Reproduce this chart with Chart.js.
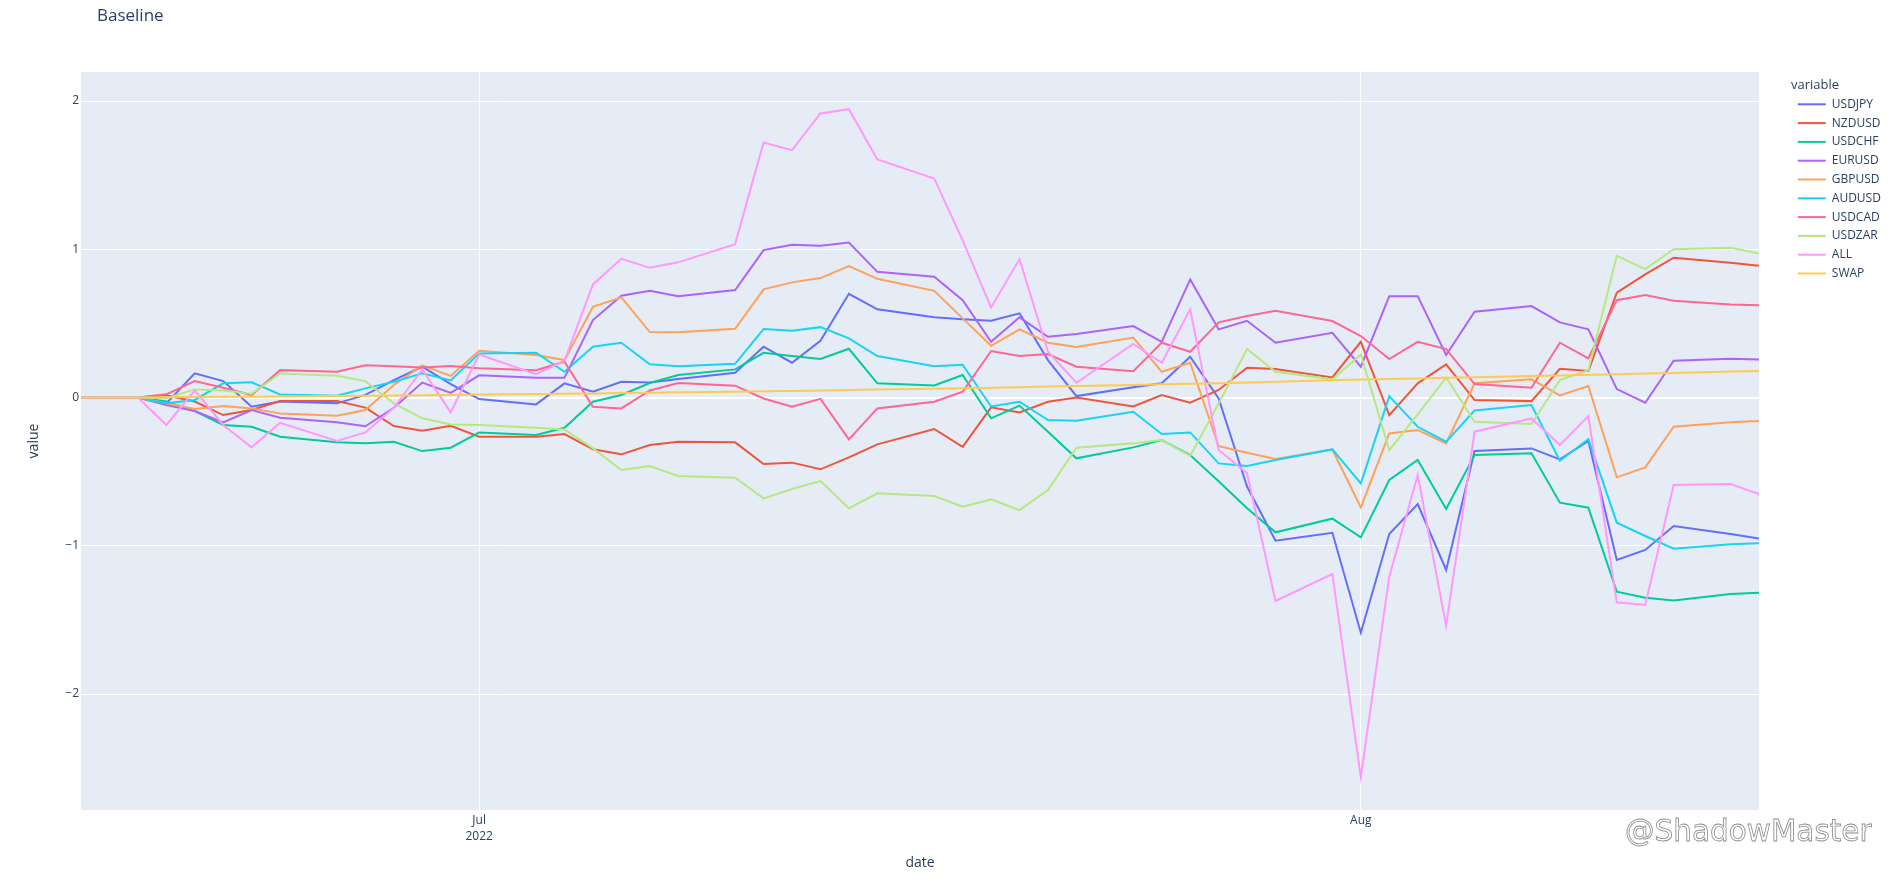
<!DOCTYPE html>
<html>
<head>
<meta charset="utf-8">
<script src="https://cdn.jsdelivr.net/npm/chart.js@4.4.1/dist/chart.umd.min.js"></script>
<style>
html,body{margin:0;padding:0;background:#ffffff;}
#wrap{position:relative;width:1902px;height:881px;overflow:hidden;}
#c{display:block;}
#wm{position:absolute;left:1625px;top:815px;font-family:'DejaVu Sans',sans-serif;font-size:29.5px;line-height:32px;color:#ffffff;-webkit-text-stroke:0.8px #8a8a8a;white-space:nowrap;}
</style>
</head>
<body>
<div id="wrap"><canvas id="c" width="1902" height="881"></canvas><div id="wm">@ShadowMaster</div></div>
<script>
const dates = ['2022-06-17','2022-06-19','2022-06-20','2022-06-21','2022-06-22','2022-06-23','2022-06-24','2022-06-26','2022-06-27','2022-06-28','2022-06-29','2022-06-30','2022-07-01','2022-07-03','2022-07-04','2022-07-05','2022-07-06','2022-07-07','2022-07-08','2022-07-10','2022-07-11','2022-07-12','2022-07-13','2022-07-14','2022-07-15','2022-07-17','2022-07-18','2022-07-19','2022-07-20','2022-07-21','2022-07-22','2022-07-24','2022-07-25','2022-07-26','2022-07-27','2022-07-28','2022-07-29','2022-07-31','2022-08-01','2022-08-02','2022-08-03','2022-08-04','2022-08-05','2022-08-07','2022-08-08','2022-08-09','2022-08-10','2022-08-11','2022-08-12','2022-08-14','2022-08-15'];
const tickDates = ['2022-07-01','2022-08-01'];
const tickLabels = [['Jul','2022'],'Aug'];
const yTicks = [-2,-1,0,1,2];
const yMin = -2.782;
const yMax = 2.196;

const seriesNames = ['USDJPY','NZDUSD','USDCHF','EURUSD','GBPUSD','AUDUSD','USDCAD','USDZAR','ALL','SWAP'];
const seriesColors = ['#636efa','#EF553B','#00cc96','#ab63fa','#FFA15A','#19d3f3','#FF6692','#B6E880','#FF97FF','#FECB52'];

const USDJPY = [0,0,-0.04,0.163,0.111,-0.062,-0.027,-0.039,0.018,0.118,0.208,0.09,-0.01,-0.046,0.096,0.04,0.107,0.102,0.125,0.167,0.343,0.235,0.383,0.70,0.595,0.541,0.529,0.518,0.568,0.253,0.010,0.069,0.096,0.275,-0.006,-0.60,-0.966,-0.912,-1.586,-0.920,-0.718,-1.163,-0.361,-0.343,-0.417,-0.293,-1.096,-1.028,-0.866,-0.92,-0.950];
const NZDUSD = [0,0,0.015,-0.027,-0.118,-0.084,-0.023,-0.023,-0.068,-0.192,-0.224,-0.19,-0.264,-0.264,-0.246,-0.349,-0.383,-0.320,-0.298,-0.302,-0.448,-0.439,-0.484,-0.403,-0.316,-0.212,-0.332,-0.066,-0.100,-0.028,0.001,-0.06,0.017,-0.035,0.051,0.201,0.192,0.136,0.376,-0.118,0.096,0.224,-0.017,-0.024,0.194,0.179,0.707,0.831,0.943,0.909,0.889];
const USDCHF = [0,0,-0.027,-0.091,-0.185,-0.197,-0.264,-0.302,-0.309,-0.298,-0.361,-0.338,-0.235,-0.253,-0.204,-0.028,0.017,0.098,0.152,0.190,0.302,0.280,0.260,0.329,0.096,0.082,0.152,-0.140,-0.054,-0.23,-0.410,-0.336,-0.287,-0.388,-0.565,-0.747,-0.909,-0.817,-0.943,-0.556,-0.421,-0.752,-0.388,-0.376,-0.709,-0.743,-1.309,-1.350,-1.368,-1.325,-1.316];
const EURUSD = [0,0,-0.050,-0.091,-0.167,-0.084,-0.136,-0.167,-0.194,-0.069,0.101,0.032,0.150,0.134,0.134,0.523,0.687,0.720,0.684,0.725,0.995,1.031,1.024,1.046,0.848,0.815,0.657,0.376,0.541,0.410,0.428,0.482,0.376,0.797,0.460,0.518,0.370,0.437,0.208,0.684,0.684,0.287,0.579,0.617,0.507,0.460,0.057,-0.035,0.248,0.262,0.257];
const GBPUSD = [0,0,-0.039,-0.077,-0.057,-0.073,-0.107,-0.122,-0.084,0.085,0.217,0.146,0.315,0.287,0.253,0.612,0.676,0.442,0.440,0.464,0.730,0.777,0.806,0.887,0.801,0.720,0.534,0.349,0.460,0.370,0.341,0.405,0.174,0.235,-0.327,-0.372,-0.415,-0.350,-0.741,-0.242,-0.219,-0.309,0.096,0.123,0.015,0.078,-0.538,-0.471,-0.197,-0.167,-0.158];
const AUDUSD = [0,0,-0.039,-0.016,0.096,0.103,0.021,0.012,0.062,0.106,0.163,0.115,0.298,0.303,0.174,0.343,0.370,0.224,0.212,0.228,0.462,0.451,0.475,0.399,0.280,0.212,0.221,-0.060,-0.028,-0.152,-0.156,-0.096,-0.246,-0.235,-0.444,-0.462,-0.421,-0.350,-0.579,0.010,-0.197,-0.298,-0.087,-0.051,-0.426,-0.280,-0.844,-0.934,-1.019,-0.99,-0.983];
const USDCAD = [0,0,0.022,0.111,0.066,0.017,0.185,0.174,0.218,0.212,0.203,0.213,0.197,0.185,0.242,-0.062,-0.073,0.048,0.098,0.080,-0.006,-0.062,-0.009,-0.282,-0.073,-0.028,0.039,0.314,0.280,0.293,0.208,0.178,0.370,0.309,0.507,0.550,0.585,0.516,0.415,0.260,0.376,0.327,0.091,0.066,0.370,0.264,0.657,0.691,0.653,0.628,0.622];
const USDZAR = [0,0,-0.005,0.055,0.048,0.026,0.163,0.147,0.111,-0.039,-0.140,-0.181,-0.185,-0.203,-0.215,-0.343,-0.489,-0.462,-0.529,-0.541,-0.680,-0.617,-0.563,-0.747,-0.646,-0.664,-0.736,-0.687,-0.759,-0.624,-0.338,-0.309,-0.287,-0.394,-0.04,0.327,0.174,0.123,0.291,-0.354,-0.114,0.136,-0.163,-0.179,0.118,0.185,0.956,0.866,1.001,1.010,0.972];
const ALL = [0,0,-0.185,0.048,-0.185,-0.336,-0.170,-0.293,-0.235,-0.069,0.19,-0.100,0.290,0.158,0.248,0.763,0.936,0.875,0.912,1.035,1.721,1.669,1.916,1.945,1.606,1.478,1.06,0.608,0.934,0.309,0.100,0.362,0.235,0.595,-0.354,-0.511,-1.372,-1.190,-2.56,-1.208,-0.523,-1.541,-0.230,-0.141,-0.320,-0.125,-1.381,-1.399,-0.590,-0.583,-0.651];
const SWAP = [0,0,0.002,0.003,0.005,0.006,0.008,0.010,0.012,0.014,0.016,0.018,0.020,0.024,0.026,0.028,0.031,0.033,0.035,0.040,0.042,0.045,0.048,0.051,0.054,0.060,0.063,0.067,0.070,0.074,0.078,0.085,0.089,0.093,0.097,0.102,0.106,0.116,0.121,0.125,0.129,0.133,0.137,0.145,0.149,0.154,0.158,0.162,0.166,0.175,0.180];

const seriesValues = [USDJPY, NZDUSD, USDCHF, EURUSD, GBPUSD, AUDUSD, USDCAD, USDZAR, ALL, SWAP];

const DAY = 86400000;
const toDay = s => Date.parse(s + 'T00:00:00Z') / DAY;
const xs = dates.map(toDay);
const tickDays = tickDates.map(toDay);

const TEXT = '#2a3f5f';
Chart.defaults.font.family = "'Open Sans', Verdana, Arial, sans-serif";
Chart.defaults.font.size = 12;
Chart.defaults.color = TEXT;

const datasets = seriesNames.map((name, i) => ({
  label: name,
  data: seriesValues[i].map((v, j) => ({x: xs[j], y: v})),
  borderColor: seriesColors[i],
  backgroundColor: seriesColors[i],
  borderWidth: 2,
  pointRadius: 0,
  pointHoverRadius: 0,
  pointStyle: 'line',
  tension: 0,
  fill: false,
  order: -i
}));

const plotBg = {
  id: 'plotBg',
  beforeInit(chart) {
    const lg = chart.legend;
    if (lg) {
      const orig = lg.fit;
      lg.fit = function () { orig.call(this); this.width = 143; };
    }
  },
  afterLayout(chart) {
    if (chart.legend) chart.legend.left = 1791;
    if (chart.titleBlock) chart.titleBlock.left = 97;
  },
  beforeDraw(chart) {
    const {ctx, chartArea: a} = chart;
    ctx.save();
    ctx.fillStyle = '#E5ECF6';
    ctx.fillRect(a.left, a.top, a.right - a.left, a.bottom - a.top);
    ctx.restore();
  }
};

new Chart(document.getElementById('c'), {
  type: 'line',
  data: {datasets},
  plugins: [plotBg],
  options: {
    responsive: false,
    animation: false,
    events: [],
    layout: {padding: 0},
    plugins: {
      tooltip: {enabled: false},
      title: {
        display: true, text: 'Baseline', align: 'start', color: TEXT,
        font: {size: 17, weight: 'normal'},
        padding: {top: 6.3, bottom: 45.3}
      },
      legend: {
        display: true, position: 'right', align: 'start',
        title: {display: true, text: 'variable', position: 'start', color: TEXT,
                font: {size: 13, lineHeight: 1}, padding: {top: 78.5, bottom: 0}},
        labels: {
          usePointStyle: true, pointStyle: 'line', pointStyleWidth: 28, boxHeight: 12,
          padding: 6.8, color: TEXT, font: {size: 12},
          sort: (a, b) => a.datasetIndex - b.datasetIndex
        }
      }
    },
    scales: {
      x: {
        type: 'linear', bounds: 'data',
        min: xs[0], max: xs[xs.length - 1],
        grid: {color: '#ffffff', lineWidth: 1, drawTicks: false},
        border: {display: false},
        ticks: {
          padding: 3, maxRotation: 0, autoSkip: false, color: TEXT,
          font: {size: 12, lineHeight: 1.3},
          callback: (v) => { const k = tickDays.indexOf(v); return k >= 0 ? tickLabels[k] : ''; }
        },
        afterBuildTicks: (s) => { s.ticks = tickDays.map(v => ({value: v})); },
        afterFit: (s) => { s.height = 71; },
        title: {display: true, text: 'date', color: TEXT, font: {size: 14}, padding: {top: 0, bottom: 10}}
      },
      y: {
        type: 'linear', bounds: 'data',
        min: yMin, max: yMax,
        grid: {color: '#ffffff', lineWidth: (c) => (c.tick && c.tick.value === 0) ? 2 : 1, drawTicks: false},
        border: {display: false},
        ticks: {
          padding: 2, color: TEXT,
          callback: (v) => v < 0 ? '\u2212' + Math.abs(v) : String(v)
        },
        afterBuildTicks: (s) => { s.ticks = yTicks.map(v => ({value: v})); },
        afterFit: (s) => { s.width = 81; },
        title: {display: true, text: 'value', color: TEXT, font: {size: 14}, padding: {top: 25.6, bottom: 0}}
      }
    }
  }
});
</script>
</body>
</html>
